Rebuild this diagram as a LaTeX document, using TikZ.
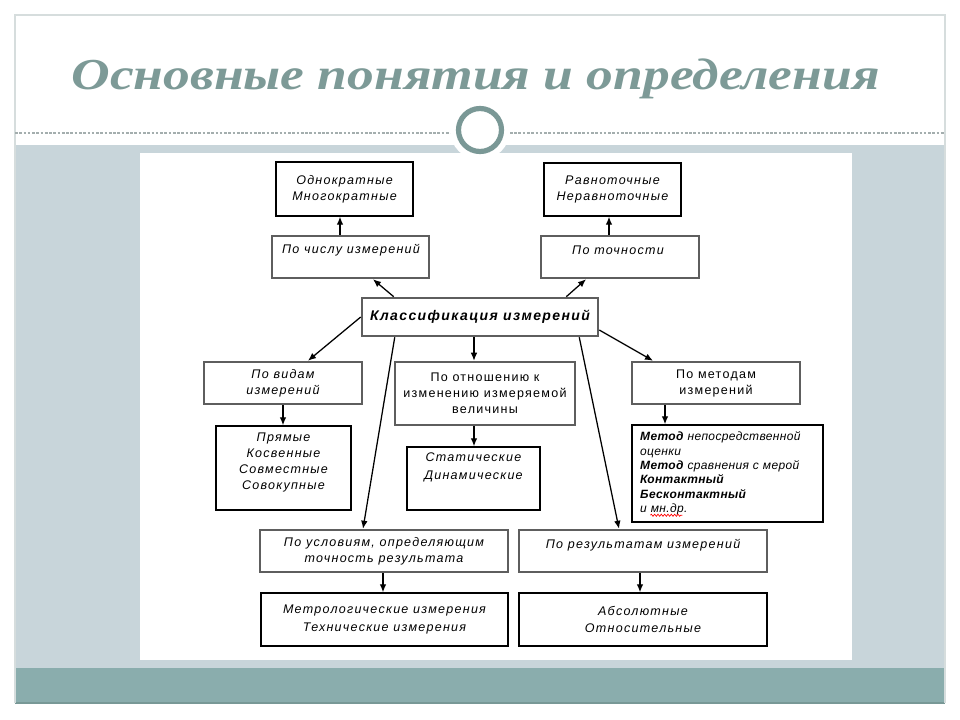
\documentclass[tikz,border=0pt]{standalone}
\usepackage{fontspec}
\usetikzlibrary{arrows.meta,calc,decorations.pathmorphing}
\newfontfamily\boxfont[LetterSpace=10]{Liberation Sans}
\newfontfamily\listfont[LetterSpace=3]{Liberation Sans}
\newfontfamily\titlefont{Liberation Serif}
\definecolor{titlegray}{HTML}{7D9A97}
\definecolor{ringgray}{HTML}{7A9896}
\definecolor{bandgray}{HTML}{C8D5DA}
\definecolor{bandteal}{HTML}{8AADAD}
\definecolor{tealedge}{HTML}{789896}
\definecolor{framegray}{HTML}{D6DDDD}
\definecolor{dashgray}{HTML}{A4AEAE}
\definecolor{catgray}{HTML}{5E5E5E}
\tikzset{
  sz/.style 2 args={minimum width=#1*0.75pt, minimum height=#2*0.75pt},
  boxtext/.style={font=\boxfont\itshape\fontsize{9.4}{12}\selectfont, align=center},
  cat/.style={draw=catgray, line width=1.9pt, fill=white, inner sep=0pt, boxtext},
  res/.style={draw=black, line width=1.1pt, fill=white, inner sep=0pt, boxtext},
  txt/.style={inner sep=0pt, boxtext},
  arr/.style={-{Latex[length=6pt,width=5pt]}, line width=0.95pt, black},
  spellwave/.style={red, line width=0.5pt, decorate, decoration={snake, amplitude=0.8pt, segment length=2.5pt}},
}
\begin{document}
\begin{tikzpicture}[x=0.75pt,y=-0.75pt]
\useasboundingbox (0,0) rectangle (960,720);
\fill[white] (0,0) rectangle (960,720);
% slide frame and bands
\fill[bandgray] (15,145) rectangle (945,668);
\fill[bandteal] (15,668) rectangle (945,703);
\draw[tealedge, line width=1pt] (15,703) -- (945,703);
\draw[framegray, line width=0.8pt] (15,703) -- (15,15) -- (945,15) -- (945,703);
\draw[dashgray, line width=0.8pt, dash pattern=on 2pt off 1.2pt] (15,133) -- (945,133);
\fill[white] (140,153) rectangle (852,660);
% ring ornament
\fill[white] (480,130) circle[radius=30*0.75pt];
\draw[ringgray, line width=3.9pt] (480,130) circle[radius=21.5*0.75pt];
% title
\node[anchor=base, inner sep=0pt, text=titlegray] (title) at (475.5,90)
  {\resizebox{606pt}{23pt}{\titlefont\bfseries\itshape Основные понятия и определения}};

% boxes
\node[res, sz={137}{54}] (odno) at (344.5,189) {Однократные\\Многократные};
\node[cat, sz={157}{42}] (chislu) at (350.5,257) {};
\node[txt] (chislut) at (351,250) {По числу измерений};
\node[res, sz={137}{53}] (ravno) at (612.5,189.5) {Равноточные\\Неравноточные};
\node[cat, sz={158}{42}] (tochn) at (620,257) {};
\node[txt] (tochnt) at (618,250) {По точности};
\node[cat, sz={236}{38}, font=\boxfont\bfseries\itshape\fontsize{10.5}{12}\selectfont] (klass) at (480,317) {Классификация измерений};
\node[cat, sz={158}{42}] (vidam) at (283,383) {По видам\\измерений};
\node[cat, sz={180}{63}, font=\boxfont\fontsize{9.4}{12}\selectfont] (otn) at (485,393.5) {По отношению к\\изменению измеряемой\\величины};
\node[cat, sz={168}{42}, font=\boxfont\fontsize{9.4}{12}\selectfont] (metodam) at (716,383) {По методам\\измерений};
\node[res, sz={135}{84}] (pryam) at (283.5,468) {};
\node[txt] (pryamt) at (283.5,462) {Прямые\\Косвенные\\Совместные\\Совокупные};
\node[res, sz={133}{63}] (stat) at (473.5,478.5) {};
\node[txt, font=\boxfont\itshape\fontsize{9.4}{13.5}\selectfont] (statt) at (473.5,467) {Статические\\Динамические};
\node[res, sz={191}{97}, align=left, inner xsep=6pt, text width=131pt,
      font=\listfont\itshape\fontsize{9}{10.8}\selectfont] (metod) at (727.5,473.5)
  {\textbf{Метод} непосредственной\\оценки\\\textbf{Метод} сравнения с мерой\\\textbf{Контактный}\\\textbf{Бесконтактный}\\и мн.др.};
\node[cat, sz={248}{42}] (uslov) at (384,551) {По условиям, определяющим\\точность результата};
\node[cat, sz={248}{42}] (result) at (643,551) {};
\node[txt] (resultt) at (643,545) {По результатам измерений};
\node[res, sz={247}{53}, font=\boxfont\itshape\fontsize{9.4}{12.8}\selectfont] (metro) at (384.5,619.5) {Метрологические измерения\\Технические измерения};
\node[res, sz={248}{53}, font=\boxfont\itshape\fontsize{9.4}{12.8}\selectfont] (abs) at (643,619.5) {Абсолютные\\Относительные};
% spell-check underline
\draw[spellwave] ($(metod.south west)+(19,-7.5)$) -- ($(metod.south west)+(51,-7.5)$);

% connectors
\draw[arr] ($(klass.north west)+(33,0)$) -- ($(chislu.south)+(22.5,0)$);
\draw[arr] ($(klass.north east)+(-33,0)$) -- ($(tochn.south)+(-34,0)$);
\draw[arr] ($(chislu.north)+(-10.5,0)$) -- ($(odno.south)+(-4.5,0)$);
\draw[arr] ($(tochn.north)+(-11,0)$) -- ($(ravno.south)+(-3.5,0)$);
\draw[arr] (klass.west) -- ($(vidam.north)+(25,0)$);
\draw[arr] ($(klass.south)+(-6,0)$) -- ($(otn.north)+(-11,0)$);
\draw[arr] ($(klass.east)+(0,13)$) -- ($(metodam.north)+(-63,0)$);
\draw[arr] ($(klass.south west)+(34,0)$) -- ($(uslov.north)+(-21,0)$);
\draw[arr] ($(klass.south east)+(-20,0)$) -- ($(result.north)+(-24,0)$);
\draw[arr] (vidam.south) -- (pryam.north -| vidam.south);
\draw[arr] ($(otn.south)+(-11,0)$) -- ($(stat.north)+(0.5,0)$);
\draw[arr] ($(metodam.south)+(-51,0)$) -- ($(metod.north)+(-62.5,0)$);
\draw[arr] ($(uslov.south)+(-1,0)$) -- ($(metro.north)+(-1.5,0)$);
\draw[arr] ($(result.south)+(-3,0)$) -- ($(abs.north)+(-3,0)$);
\end{tikzpicture}
\end{document}
